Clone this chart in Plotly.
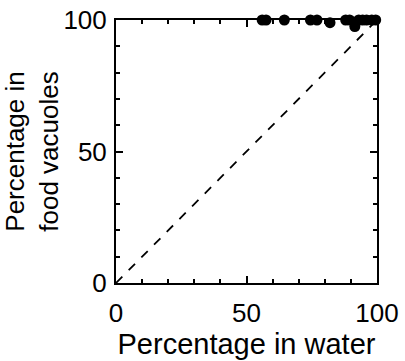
import plotly.graph_objects as go

water = [56, 57.5, 64.5, 74.5, 77, 82, 88, 89.5, 91.5, 93, 94.5, 96, 98, 99.5]
vacuoles = [100, 100, 100, 100, 100, 99, 100, 100, 97.5, 100, 100, 100, 100, 100]
identity = [0, 100]

FONT = "Arial, Liberation Sans, sans-serif"

fig = go.Figure()
fig.add_trace(go.Scatter(x=identity, y=identity, mode="lines",
                         line=dict(color="black", width=1.8, dash="dash"),
                         hoverinfo="skip"))
fig.add_trace(go.Scatter(x=water, y=vacuoles, mode="markers",
                         marker=dict(color="black", size=11),
                         cliponaxis=False))

axis_common = dict(
    range=[0, 100], tickvals=[0, 50, 100], ticks="inside", ticklen=7,
    tickwidth=1.5, tickcolor="black", showline=True, linecolor="black",
    linewidth=2, mirror="allticks", showgrid=False, zeroline=False,
    automargin=False,
    tickfont=dict(family=FONT, size=26, color="black"),
    minor=dict(dtick=10, ticks="inside", ticklen=4, tickwidth=1.5,
               tickcolor="black", showgrid=False),
)

fig.update_layout(
    width=405, height=361,
    margin=dict(l=116, r=28, t=20, b=78, autoexpand=False),
    paper_bgcolor="white", plot_bgcolor="white",
    showlegend=False,
    font=dict(family=FONT, color="black"),
    xaxis=dict(**axis_common, ticklabelstandoff=6,
               title=dict(text="Percentage in water", standoff=2,
                          font=dict(family=FONT, size=29, color="black"))),
    yaxis=dict(**axis_common, ticklabelstandoff=2,
               title=dict(text="Percentage in<br>food vacuoles", standoff=2,
                          font=dict(family=FONT, size=26, color="black"))),
)
fig.write_html("out.html")
